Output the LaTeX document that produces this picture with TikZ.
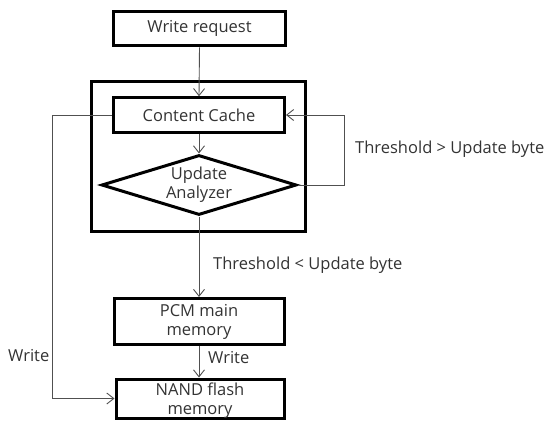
\documentclass[tikz,border=0pt]{standalone}
\usepackage{fontspec}
\setmainfont{Open Sans}
\usetikzlibrary{arrows.meta,shapes.geometric}
\definecolor{txt}{HTML}{333333}
\definecolor{ln}{HTML}{505050}
\begin{document}
\begin{tikzpicture}[x=1pt,y=-1pt,
  box/.style={draw=black,line width=3pt,inner sep=0pt,font=\fontsize{16.5}{19}\selectfont,align=center,text=txt},
  conn/.style={draw=ln,line width=0.9pt,-{Straight Barb[length=7pt,width=11pt,line width=0.9pt]}},
  txtnode/.style={font=\fontsize{16.5}{19}\selectfont,text=txt,align=center,inner sep=0pt},
  lbl/.style={font=\fontsize{16.5}{19}\selectfont,text=txt,inner sep=0pt,anchor=base west}]
\useasboundingbox (0,0) rectangle (548,421);
\draw[line width=3pt] (91,81) rectangle (305.5,231);
\node[box,minimum width=172pt,minimum height=34.5pt] (req) at (199.5,28.7) {Write request};
\node[box,minimum width=171pt,minimum height=34.5pt] (cc) at (199,115) {Content Cache};
\node[draw=black,line width=3pt,diamond,minimum width=195pt,minimum height=60pt,inner sep=0pt] (ua) at (199,185) {};
\node[txtnode] (uat) at (199,185) {Update\\Analyzer};
\node[box,minimum width=170pt,minimum height=46pt] (pcm) at (199,321.5) {PCM main\\memory};
\node[box,minimum width=168pt,minimum height=39pt] (nand) at (200,398.5) {};
\node[txtnode] (nandt) at (200,401) {NAND flash\\memory};
\coordinate (r1) at (344.5,185);
\coordinate (r2) at (344.5,115);
\coordinate (l1) at (52,115);
\coordinate (l2) at (52,398.5);
\draw[conn] (req.south) -- (cc.north);
\draw[conn] (cc.south) -- (ua.north);
\draw[conn] (ua.east) -- (r1) -- (r2) -- (cc.east);
\draw[conn] (ua.south) -- (pcm.north);
\draw[conn] (pcm.south) -- (nand.north -| pcm.south);
\draw[conn] (cc.west) -- (l1) -- (l2) -- (nand.west);
\node[lbl] (gt) at (355,153) {Threshold > Update byte};
\node[lbl] (lt) at (213,269) {Threshold < Update byte};
\node[lbl] (w1) at (208,363.3) {Write};
\node[lbl] (w2) at (8,361.7) {Write};
\end{tikzpicture}
\end{document}
